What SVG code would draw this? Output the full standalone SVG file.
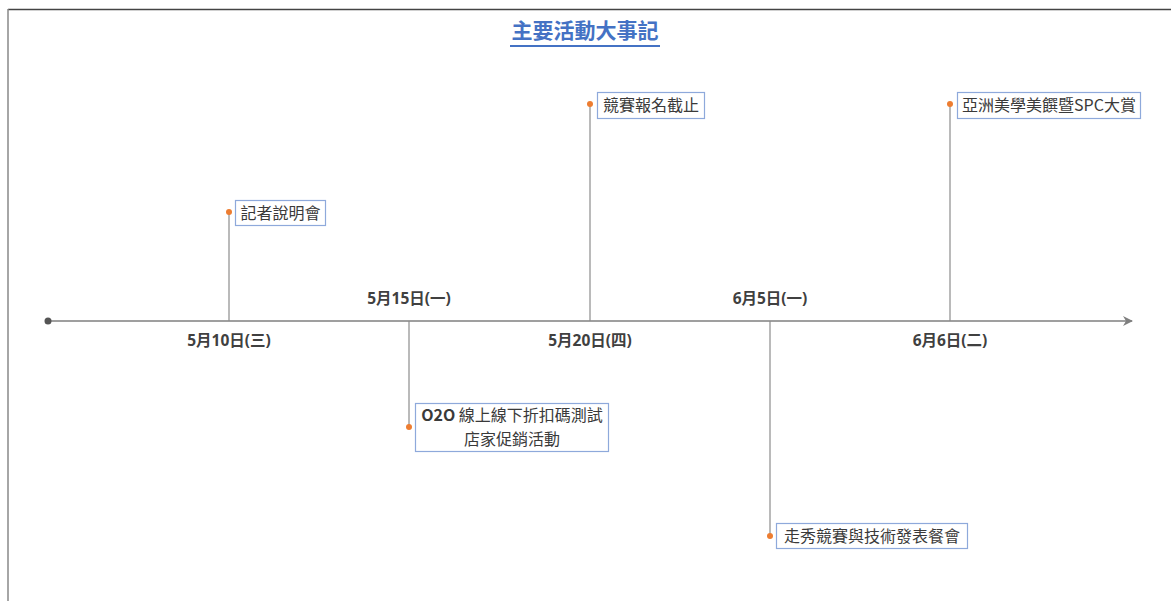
<svg xmlns="http://www.w3.org/2000/svg" width="1171" height="601" viewBox="0 0 1171 601">
<style>
.axis{stroke:#7f7f7f;stroke-width:1.5;fill:none}
.stem{stroke:#8c8c8c;stroke-width:1.2}
.dot{fill:#ed7d31}
.box{fill:#fff;stroke:#8ea9db;stroke-width:1.2}
.lbl{font-family:"Noto Sans CJK TC","Noto Sans",sans-serif;font-size:16px;fill:#3a3a3a}
.date{font-family:"Noto Sans","Noto Sans CJK TC",sans-serif;font-size:15.5px;font-weight:bold;fill:#404040;text-anchor:middle}
.title{font-family:"Noto Sans CJK TC",sans-serif;font-size:21px;font-weight:bold;fill:#4472c4;text-anchor:middle}
</style>
<defs>
<marker id="arr" viewBox="0 0 10 10" refX="9" refY="5" markerWidth="10" markerHeight="10" markerUnits="userSpaceOnUse" orient="auto">
<path d="M0,0 L10,5 L0,10 L3,5 Z" fill="#7f7f7f"/>
</marker>
</defs>
<rect width="1171" height="601" fill="#fff"/>
<line x1="8" y1="9.5" x2="1171" y2="9.5" stroke="#444" stroke-width="1.3"/>
<line x1="8" y1="9" x2="8" y2="601" stroke="#888" stroke-width="1.5"/>
<g id="title">
<text class="title" x="585" y="38">主要活動大事記</text>
<line x1="510" y1="46" x2="660" y2="46" stroke="#4472c4" stroke-width="2"/>
</g>
<g id="connectors">
<line class="axis" x1="48" y1="321" x2="1132" y2="321" marker-end="url(#arr)"/>
<circle cx="48" cy="321" r="3.5" fill="#555"/>
<line class="stem" x1="229" y1="212" x2="229" y2="321"/>
<line class="stem" x1="409" y1="321" x2="409" y2="427"/>
<line class="stem" x1="590" y1="104" x2="590" y2="321"/>
<line class="stem" x1="770" y1="321" x2="770" y2="536"/>
<line class="stem" x1="950" y1="104" x2="950" y2="321"/>
<circle class="dot" cx="229" cy="212" r="3"/>
<circle class="dot" cx="409" cy="427" r="3"/>
<circle class="dot" cx="590" cy="104" r="3"/>
<circle class="dot" cx="770" cy="536" r="3"/>
<circle class="dot" cx="950" cy="104" r="3"/>
</g>
<g id="d1"><text class="date" x="229" y="346">5月10日(三)</text></g>
<g id="d2"><text class="date" x="409" y="304">5月15日(一)</text></g>
<g id="d3"><text class="date" x="590" y="346">5月20日(四)</text></g>
<g id="d4"><text class="date" x="770" y="304">6月5日(一)</text></g>
<g id="d5"><text class="date" x="950" y="346">6月6日(二)</text></g>
<g id="e1">
<rect class="box" x="235.5" y="200.5" width="90" height="25"/>
<text class="lbl" x="280.5" y="219" text-anchor="middle">記者說明會</text>
</g>
<g id="e2">
<rect class="box" x="415.5" y="403.5" width="193" height="48"/>
<text class="lbl" x="512" y="421" text-anchor="middle"><tspan font-weight="bold">O2O</tspan> 線上線下折扣碼測試</text>
<text class="lbl" x="512" y="445" text-anchor="middle">店家促銷活動</text>
</g>
<g id="e3">
<rect class="box" x="597.5" y="92.5" width="107" height="26"/>
<text class="lbl" x="651" y="111" text-anchor="middle">競賽報名截止</text>
</g>
<g id="e4">
<rect class="box" x="776.5" y="523.5" width="191" height="25"/>
<text class="lbl" x="872" y="542" text-anchor="middle">走秀競賽與技術發表餐會</text>
</g>
<g id="e5">
<rect class="box" x="957.5" y="92.5" width="183" height="26"/>
<text class="lbl" x="1049" y="111" text-anchor="middle">亞洲美學美饌暨SPC大賞</text>
</g>
</svg>
